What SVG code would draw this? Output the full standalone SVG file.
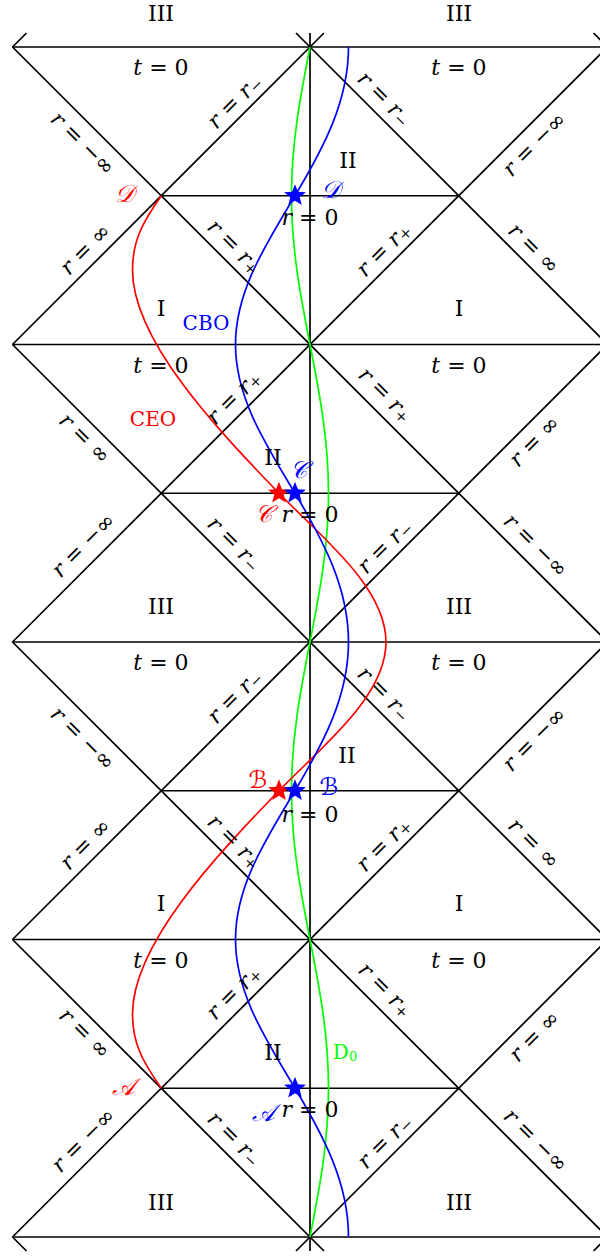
<svg xmlns="http://www.w3.org/2000/svg" width="600" height="1258" viewBox="0 0 600 1258">
<style>
.ln{stroke:#000;stroke-width:1.7;fill:none;stroke-linecap:butt}
.cv{fill:none;stroke-width:1.7}
.lab{font-family:"DejaVu Serif","Liberation Serif",serif;font-size:22px;text-anchor:middle;dominant-baseline:central;fill:#000}
.it{font-style:italic}
.sc{font-family:"DejaVu Serif","DejaVu Sans","Noto Sans",serif;font-size:24px;text-anchor:middle;dominant-baseline:central;font-style:italic}
.cl{font-family:"DejaVu Serif","Liberation Serif",serif;font-size:20px;text-anchor:middle;dominant-baseline:central}
</style>
<defs>
<path id="star" d="M0,-11.5 L2.94,-4.05 L10.94,-3.55 L4.76,1.55 L6.76,9.3 L0,5 L-6.76,9.3 L-4.76,1.55 L-10.94,-3.55 L-2.94,-4.05 Z"/>
</defs>
<rect width="600" height="1258" fill="#fff"/>
<g id="grid" class="ln">
<path d="M12.5,47H607.5M12.5,344.5H607.5M12.5,642H607.5M12.5,939.5H607.5M12.5,1237H607.5"/>
<path d="M161.25,195.75H458.75M161.25,493.25H458.75M161.25,790.75H458.75M161.25,1088.25H458.75"/>
<path d="M310,33V1251"/>
<path d="M296,33L607.5,344.5M12.5,47L607.5,642M12.5,344.5L607.5,939.5M12.5,642L607.5,1237M12.5,939.5L324,1251M12.5,1237L26.5,1251M593.5,33L607.5,47"/>
<path d="M607.5,47L12.5,642M607.5,344.5L12.5,939.5M607.5,642L12.5,1237M607.5,939.5L296,1251M607.5,1237L593.5,1251M324,33L12.5,344.5M26.5,33L12.5,47"/>
</g>
<g id="curves">
<path id="D0" class="cv" stroke="#00ff00" d="M310,47C300.52,95.5 291.5,141.9 291.5,195.75C291.5,249.6 300.52,296 310,344.5C319.48,393 328.5,439.4 328.5,493.25C328.5,547.1 319.48,593.5 310,642C300.52,690.5 291.5,736.9 291.5,790.75C291.5,844.6 300.52,891 310,939.5C319.48,988 328.5,1034.4 328.5,1088.25C328.5,1142.1 319.48,1188.5 310,1237"/>
<path id="CEO" class="cv" stroke="#ff0000" d="M161.25,195.75C143,222 132.5,240 132.5,270C132.5,340 216.45,428.54 279,493.25C320.7,536.4 386,587 386,642C386,697 320.7,747.6 279,790.75C216.45,855.46 132.5,944 132.5,1014C132.5,1044 143,1062 161.25,1088.25"/>
<path id="CBO" class="cv" stroke="#0000ff" d="M348.5,47C348.5,100.85 323.94,147.25 295,195.75C266.06,244.25 235.5,290.65 235.5,344.5C235.5,398.35 266.06,444.75 295,493.25C323.94,541.75 348.5,588.15 348.5,642C348.5,695.85 323.94,742.25 295,790.75C266.06,839.25 235.5,885.65 235.5,939.5C235.5,993.35 266.06,1039.75 295,1088.25C323.94,1136.75 348.5,1183.15 348.5,1237"/>
</g>
<g id="markers">
<use href="#star" x="279" y="493.25" fill="#ff0000"/>
<use href="#star" x="279" y="790.75" fill="#ff0000"/>
<use href="#star" x="295" y="195.75" fill="#0000ff"/>
<use href="#star" x="295" y="493.25" fill="#0000ff"/>
<use href="#star" x="295" y="790.75" fill="#0000ff"/>
<use href="#star" x="295" y="1088.25" fill="#0000ff"/>
</g>
<g id="region-labels" class="lab">
<text x="161" y="13">III</text><text x="459" y="13">III</text>
<text x="161" y="67"><tspan class="it">t</tspan> = 0</text><text x="459" y="67"><tspan class="it">t</tspan> = 0</text>
<text x="348" y="160">II</text>
<text x="310" y="217"><tspan class="it">r</tspan> = 0</text>
<text x="161" y="308">I</text><text x="459" y="308">I</text>
<text x="161" y="365"><tspan class="it">t</tspan> = 0</text><text x="459" y="365"><tspan class="it">t</tspan> = 0</text>
<text x="273" y="457">II</text>
<text x="310" y="514"><tspan class="it">r</tspan> = 0</text>
<text x="161" y="606">III</text><text x="459" y="606">III</text>
<text x="161" y="662"><tspan class="it">t</tspan> = 0</text><text x="459" y="662"><tspan class="it">t</tspan> = 0</text>
<text x="347" y="755">II</text>
<text x="310" y="814"><tspan class="it">r</tspan> = 0</text>
<text x="161" y="903">I</text><text x="459" y="903">I</text>
<text x="161" y="960"><tspan class="it">t</tspan> = 0</text><text x="459" y="960"><tspan class="it">t</tspan> = 0</text>
<text x="273" y="1052">II</text>
<text x="310" y="1109"><tspan class="it">r</tspan> = 0</text>
<text x="161" y="1202">III</text><text x="459" y="1202">III</text>
</g>
<g id="edge-labels" class="lab">
<text transform="translate(83 143) rotate(45)"><tspan class="it">r</tspan> = −∞</text>
<text transform="translate(234 101) rotate(-45)"><tspan class="it">r</tspan> = <tspan class="it">r</tspan><tspan font-size="15" dy="5">−</tspan></text>
<text transform="translate(85 249) rotate(-45)"><tspan class="it">r</tspan> = ∞</text>
<text transform="translate(235 246) rotate(45)"><tspan class="it">r</tspan> = <tspan class="it">r</tspan><tspan font-size="15" dy="5">+</tspan></text>
<text transform="translate(385 98) rotate(45)"><tspan class="it">r</tspan> = <tspan class="it">r</tspan><tspan font-size="15" dy="5">−</tspan></text>
<text transform="translate(534 144) rotate(-45)"><tspan class="it">r</tspan> = −∞</text>
<text transform="translate(383 249) rotate(-45)"><tspan class="it">r</tspan> = <tspan class="it">r</tspan><tspan font-size="15" dy="5">+</tspan></text>
<text transform="translate(534 248) rotate(45)"><tspan class="it">r</tspan> = ∞</text>

<text transform="translate(85 438) rotate(45)"><tspan class="it">r</tspan> = ∞</text>
<text transform="translate(233 397) rotate(-45)"><tspan class="it">r</tspan> = <tspan class="it">r</tspan><tspan font-size="15" dy="5">+</tspan></text>
<text transform="translate(83 545) rotate(-45)"><tspan class="it">r</tspan> = −∞</text>
<text transform="translate(235 543) rotate(45)"><tspan class="it">r</tspan> = <tspan class="it">r</tspan><tspan font-size="15" dy="5">−</tspan></text>
<text transform="translate(386 394) rotate(45)"><tspan class="it">r</tspan> = <tspan class="it">r</tspan><tspan font-size="15" dy="5">+</tspan></text>
<text transform="translate(534 441) rotate(-45)"><tspan class="it">r</tspan> = ∞</text>
<text transform="translate(384 546) rotate(-45)"><tspan class="it">r</tspan> = <tspan class="it">r</tspan><tspan font-size="15" dy="5">−</tspan></text>
<text transform="translate(536 545) rotate(45)"><tspan class="it">r</tspan> = −∞</text>

<text transform="translate(83 738) rotate(45)"><tspan class="it">r</tspan> = −∞</text>
<text transform="translate(234 696) rotate(-45)"><tspan class="it">r</tspan> = <tspan class="it">r</tspan><tspan font-size="15" dy="5">−</tspan></text>
<text transform="translate(85 844) rotate(-45)"><tspan class="it">r</tspan> = ∞</text>
<text transform="translate(235 841) rotate(45)"><tspan class="it">r</tspan> = <tspan class="it">r</tspan><tspan font-size="15" dy="5">+</tspan></text>
<text transform="translate(385 693) rotate(45)"><tspan class="it">r</tspan> = <tspan class="it">r</tspan><tspan font-size="15" dy="5">−</tspan></text>
<text transform="translate(534 739) rotate(-45)"><tspan class="it">r</tspan> = −∞</text>
<text transform="translate(383 844) rotate(-45)"><tspan class="it">r</tspan> = <tspan class="it">r</tspan><tspan font-size="15" dy="5">+</tspan></text>
<text transform="translate(534 843) rotate(45)"><tspan class="it">r</tspan> = ∞</text>

<text transform="translate(85 1033) rotate(45)"><tspan class="it">r</tspan> = ∞</text>
<text transform="translate(233 992) rotate(-45)"><tspan class="it">r</tspan> = <tspan class="it">r</tspan><tspan font-size="15" dy="5">+</tspan></text>
<text transform="translate(83 1140) rotate(-45)"><tspan class="it">r</tspan> = −∞</text>
<text transform="translate(235 1138) rotate(45)"><tspan class="it">r</tspan> = <tspan class="it">r</tspan><tspan font-size="15" dy="5">−</tspan></text>
<text transform="translate(386 989) rotate(45)"><tspan class="it">r</tspan> = <tspan class="it">r</tspan><tspan font-size="15" dy="5">+</tspan></text>
<text transform="translate(534 1036) rotate(-45)"><tspan class="it">r</tspan> = ∞</text>
<text transform="translate(384 1141) rotate(-45)"><tspan class="it">r</tspan> = <tspan class="it">r</tspan><tspan font-size="15" dy="5">−</tspan></text>
<text transform="translate(536 1140) rotate(45)"><tspan class="it">r</tspan> = −∞</text>
</g>
<g id="curve-labels">
<text class="cl" x="206" y="323" fill="#0000ff">CBO</text>
<text class="cl" x="153" y="419" fill="#ff0000">CEO</text>
<text class="cl" x="345" y="1052" fill="#00ff00">D<tspan font-size="13" dy="4">0</tspan></text>
<text class="sc" x="124" y="194" fill="#ff0000">𝒟</text>
<text class="sc" x="330" y="190" fill="#0000ff">𝒟</text>
<text class="sc" x="298" y="470" fill="#0000ff">𝒞</text>
<text class="sc" x="263" y="514" fill="#ff0000">𝒞</text>
<text class="sc" x="258" y="780" fill="#ff0000">ℬ</text>
<text class="sc" x="329" y="787" fill="#0000ff">ℬ</text>
<text class="sc" x="123" y="1087" fill="#ff0000">𝒜</text>
<text class="sc" x="263" y="1113" fill="#0000ff">𝒜</text>
</g>
</svg>
